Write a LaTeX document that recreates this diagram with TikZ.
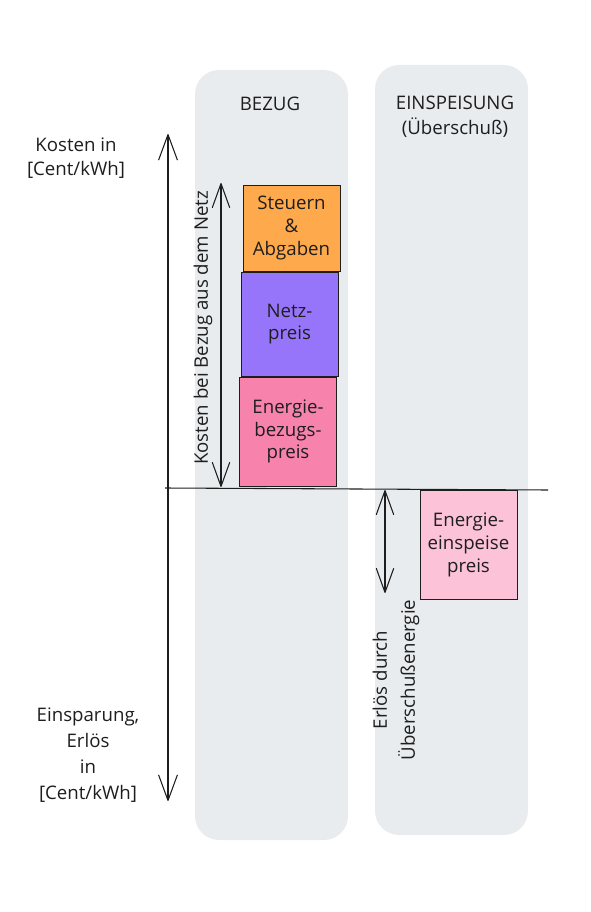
\documentclass[tikz,border=0pt]{standalone}
\usepackage{fontspec}
\setmainfont{Open Sans}
\usetikzlibrary{arrows.meta}
\definecolor{colbg}{HTML}{E9ECEF}
\definecolor{ink}{HTML}{1E1E1E}
\definecolor{orangebox}{HTML}{FFA94D}
\definecolor{violetbox}{HTML}{9775FA}
\definecolor{pinkbox}{HTML}{F783AC}
\definecolor{lightpink}{HTML}{FCC2D7}
\tikzset{
  column/.style={fill=colbg, rounded corners=18pt},
  pricebox/.style={draw=ink, line width=0.7pt, minimum width=72.75pt, align=center, font=\fontsize{14}{17}\selectfont, text=ink},
  label/.style={align=center, font=\fontsize{14}{17}\selectfont, text=ink},
  axis/.style={draw=ink, line width=0.8pt},
  tip/.style={arrows={-Straight Barb[length=19pt,width=14pt,line width=0.8pt,round]}},
  dtip/.style={arrows={Straight Barb[length=18pt,width=13pt,line width=0.8pt,round]-Straight Barb[length=18pt,width=13pt,line width=0.8pt,round]}}
}
\begin{document}
\begin{tikzpicture}[x=0.75pt,y=-0.75pt]
\useasboundingbox (0,0) rectangle (590,912);
% columns
\path[column] (195,70) rectangle (348,840);
\path[column] (375,65) rectangle (528,835);
% headers
\node[label] (bezug) at (270,104) {BEZUG};
\node[label] (einsp) at (455,103) {EINSPEISUNG};
\node[label] (ueber) at (455,128) {(Überschuß)};
% axis labels
\node[label] (kosten) at (76,158) {Kosten in\\[1pt]{[}Cent/kWh{]}};
\node[label, font=\fontsize{14}{19.5}\selectfont] (einspar) at (88,755) {Einsparung,\\Erlös\\in\\{[}Cent/kWh{]}};
% axes
\coordinate (ytop) at (168,134);
\coordinate (ybot) at (168,801);
\coordinate (xl) at (165,488);
\coordinate (xr) at (548,490);
\draw[axis] (xl) -- (xr);
\draw[axis,tip] (168,488) -- (ytop);
\draw[axis,tip] (168,488) -- (ybot);
% boxes
\node[pricebox, fill=orangebox, minimum height=64.5pt] (steuern) at (291.5,228) {Steuern\\\&\\Abgaben};
\node[pricebox, fill=violetbox, minimum height=78pt] (netz) at (289.5,324) {Netz-\\preis};
\node[pricebox, fill=pinkbox, minimum height=81.75pt] (energie) at (288,431.5) {Energie-\\bezugs-\\preis};
\node[pricebox, fill=lightpink, minimum height=81.75pt] (einpreis) at (468.5,545) {Energie-\\einspeise\\preis};
% dimension arrows
\coordinate (dtop) at (221,183);
\coordinate (dbot) at (221,487);
\draw[axis,dtip] (dtop) -- (dbot);
\node[label, rotate=90] (kbez) at (203,328) {Kosten bei Bezug aus dem Netz};
\coordinate (etop) at (385,490);
\coordinate (ebot) at (385,593);
\draw[axis,dtip] (etop) -- (ebot);
\node[label, rotate=90, font=\fontsize{14}{21}\selectfont] (erloes) at (396,680) {Erlös durch\\Überschußenergie};
\end{tikzpicture}
\end{document}
